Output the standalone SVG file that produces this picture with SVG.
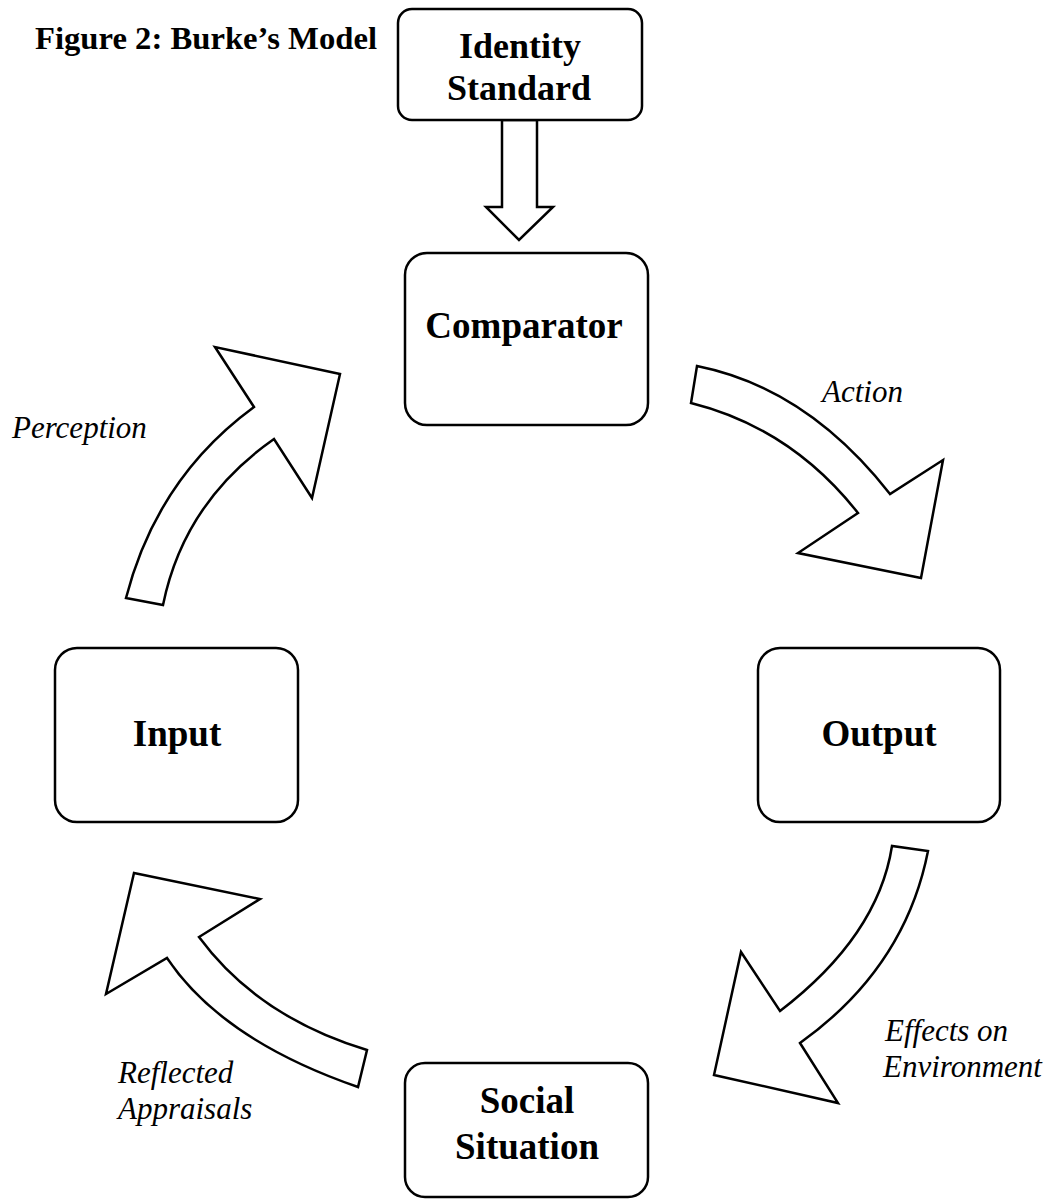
<svg xmlns="http://www.w3.org/2000/svg" width="1057" height="1199" viewBox="0 0 1057 1199">
<style>
.box{fill:#fff;stroke:#000;stroke-width:2.5}
.arr{fill:#fff;stroke:#000;stroke-width:2.5;stroke-linejoin:miter}
.t{font-family:"Liberation Serif","Times New Roman",serif;font-weight:bold;fill:#000;text-anchor:middle}
.lbl{font-family:"Liberation Serif","Times New Roman",serif;font-style:italic;font-size:31px;fill:#000}
</style>
<rect width="1057" height="1199" fill="#fff"/>
<text x="35" y="49" font-family="Liberation Serif, Times New Roman, serif" font-weight="bold" font-size="32" textLength="342" lengthAdjust="spacingAndGlyphs">Figure 2: Burke’s Model</text>
<g id="connectors">
<polygon class="arr" points="502,120 502,207 486,207 519,240 553,207 537,207 537,120"/>
<path id="action" class="arr" d="M697,366 Q807,388 890,494 L943,460 L921,578 L798,553 L858,513 Q791,428 691,403 Z"/>
<path id="effects" class="arr" d="M892,846 Q878,936 780,1011 L741,952 L714,1075 L838,1103 L800,1043 Q905,968 928,851 Z"/>
<path id="reflected" class="arr" d="M199,937 Q258,1017 367,1050 L358,1087 Q222,1040 167,958 L106,994 L134,873 L260,899 Z"/>
<path id="perception" class="arr" d="M126,598 Q157,478 254,407 L215,347 L340,374 L312,498 L274,439 Q184,502 163,605 Z"/>
<text class="lbl" x="822" y="402">Action</text>
<text class="lbl" x="12" y="438">Perception</text>
<text class="lbl" x="885" y="1041">Effects on</text>
<text class="lbl" x="883" y="1077">Environment</text>
<text class="lbl" x="118" y="1083">Reflected</text>
<text class="lbl" x="118" y="1119">Appraisals</text>
</g>
<g id="identity">
<rect class="box" x="398" y="9" width="244" height="111" rx="14"/>
<text class="t" x="520" y="58" font-size="36">Identity</text>
<text class="t" x="519" y="100" font-size="36">Standard</text>
</g>
<g id="comparator">
<rect class="box" x="405" y="253" width="243" height="172" rx="22"/>
<text class="t" x="524" y="338" font-size="37">Comparator</text>
</g>
<g id="input">
<rect class="box" x="55" y="648" width="243" height="174" rx="22"/>
<text class="t" x="177" y="746" font-size="37">Input</text>
</g>
<g id="output">
<rect class="box" x="758" y="648" width="242" height="174" rx="22"/>
<text class="t" x="879" y="746" font-size="37">Output</text>
</g>
<g id="social">
<rect class="box" x="405" y="1063" width="243" height="134" rx="20"/>
<text class="t" x="527" y="1113" font-size="37">Social</text>
<text class="t" x="527" y="1159" font-size="37">Situation</text>
</g>
</svg>
